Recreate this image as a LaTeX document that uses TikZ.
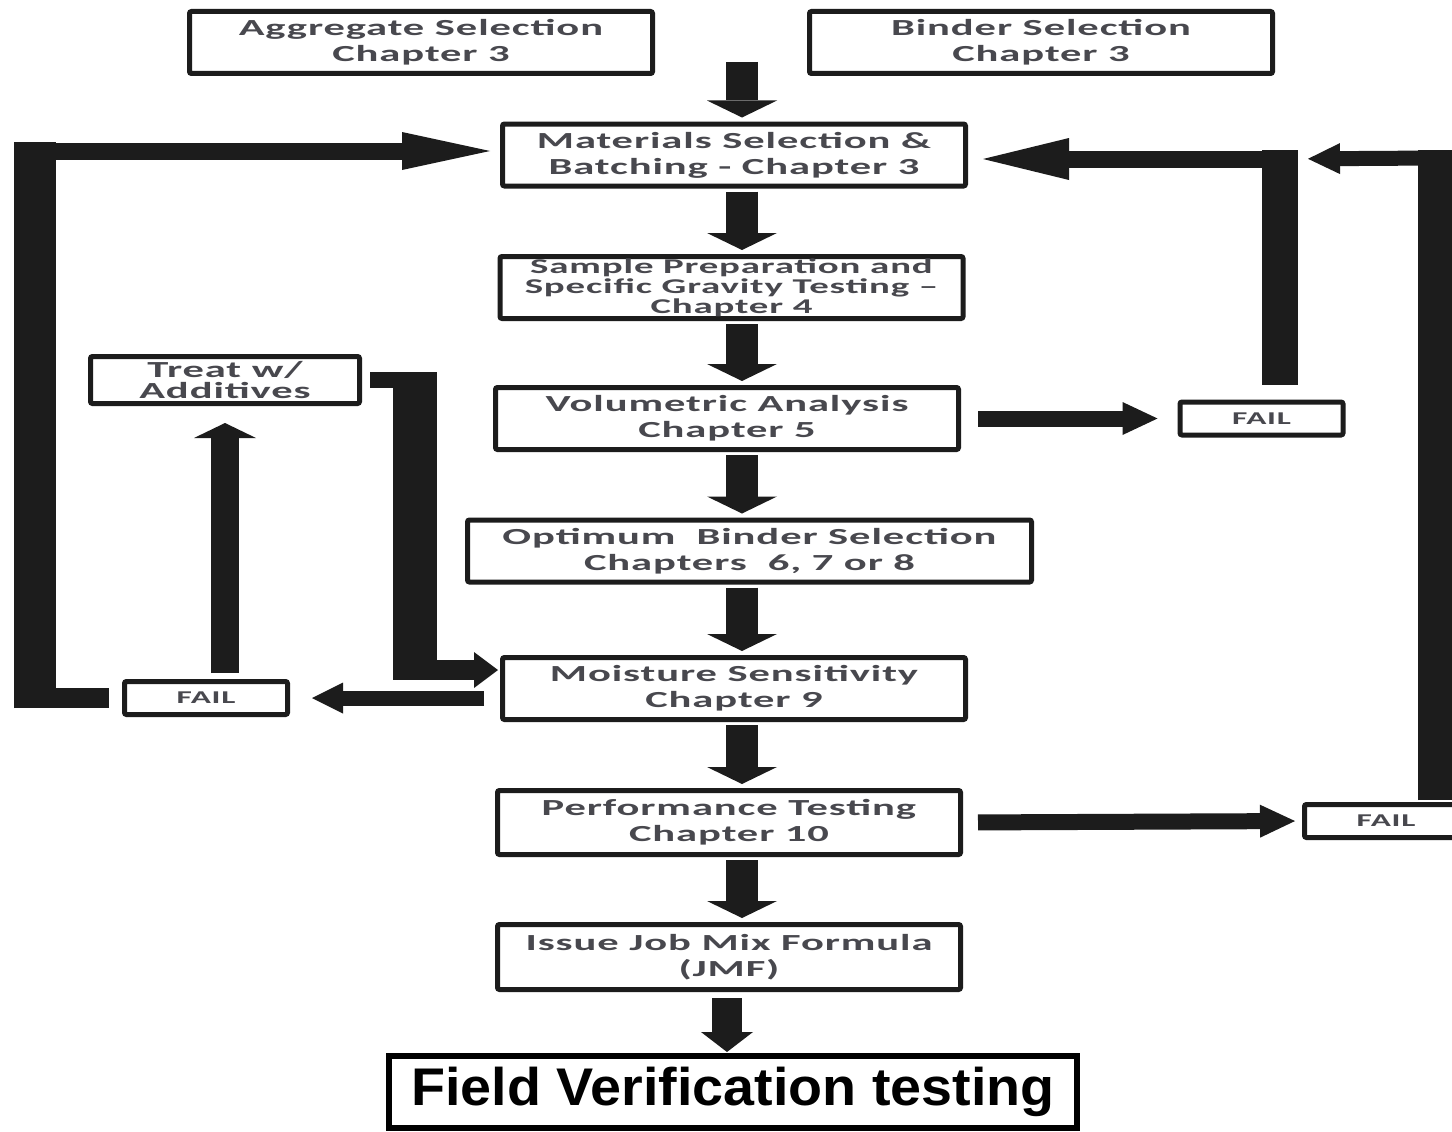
\documentclass[tikz,border=0pt]{standalone}
\usepackage{fontspec}
\usepackage{tikz}
\usetikzlibrary{arrows.meta,positioning,calc}
\newfontfamily\boxfont[FakeStretch=1.85,LetterSpace=4,Ligatures=TeX]{Carlito}
\newfontfamily\fieldfont[FakeStretch=1.05]{Liberation Sans}
\definecolor{inkgray}{RGB}{72,72,78}
\definecolor{arrowblack}{RGB}{28,28,28}

\begin{document}
\begin{tikzpicture}[x=1pt,y=-1pt,
 stage/.style={rectangle,draw=arrowblack,line width=5pt,rounded corners=2pt,fill=white,text=inkgray,align=center,inner sep=0pt,minimum width=463pt,minimum height=62pt,font=\boxfont\bfseries\fontsize{23}{26}\selectfont},
 failbox/.style={stage,minimum width=163pt,minimum height=33pt,font=\boxfont\bfseries\fontsize{18}{18}\selectfont},
 vflow/.style={draw=arrowblack,line width=32pt,-{Triangle[width=70pt,length=17pt,line width=0pt]},shorten <=3pt,shorten >=4pt},
 hflow/.style={draw=arrowblack,line width=16pt,-{Triangle[width=33pt,length=35pt,line width=0pt]}},
 vbar/.style={draw=arrowblack,line width=38pt},
 hbar/.style={draw=arrowblack,line width=17pt}
]
\clip (0,0) rectangle (1452,1132);
\fill[white] (0,0) rectangle (1452,1132);

% stages
\node[stage] (agg) at (421,42.5) {Aggregate Selection\\Chapter 3};
\node[stage] (binder) at (1041,42.5) {Binder Selection\\Chapter 3};
\node[stage] (mat) at (734,155) {Materials Selection \&\\Batching - Chapter 3};
\node[stage,font=\boxfont\bfseries\fontsize{21}{20}\selectfont] (sample) at (731.5,287.5) {Sample Preparation and\\Specific Gravity Testing –\\Chapter 4};
\node[stage] (vol) at (727,418.5) {Volumetric Analysis\\Chapter 5};
\node[stage,minimum width=564pt] (opt) at (749.5,551) {Optimum\ \ Binder Selection\\Chapters\ \ 6, 7 or 8};
\node[stage] (moist) at (734,688.5) {Moisture Sensitivity\\Chapter 9};
\node[stage,minimum height=64pt] (perf) at (729,822.5) {Performance Testing\\Chapter 10};
\node[stage,minimum height=65pt] (jmf) at (729,957) {Issue Job Mix Formula\\(JMF)};
\node[stage,minimum width=269pt,minimum height=47pt,font=\boxfont\bfseries\fontsize{23}{21}\selectfont] (treat) at (225,380) {Treat w/\\Additives};
\node[failbox] (fail1) at (1261.5,418.5) {FAIL};
\node[failbox] (fail2) at (206,698) {FAIL};
\node[failbox] (fail3) at (1386,821) {FAIL};
\node[rectangle,draw=black,line width=6pt,fill=white,inner sep=0pt,minimum width=688pt,minimum height=72pt,font=\fieldfont\bfseries\fontsize{53}{60}\selectfont] (field) at (733,1092) {Field Verification testing};

% main chain
\coordinate (spine) at (742,0);
\coordinate (start) at (742,62);
\draw[vflow,shorten <=0pt] (start) -- (mat.north -| spine);
\foreach \a/\b in {mat/sample,sample/vol,vol/opt,opt/moist,moist/perf,perf/jmf}
  \draw[vflow] (\a.south -| spine) -- (\b.north -| spine);
\coordinate (spinelow) at (727,0);
\draw[vflow,line width=30pt,-{Triangle[width=52pt,length=20pt,line width=0pt]},shorten <=6pt,shorten >=1pt] (jmf.south -| spinelow) -- (field.north -| spinelow);

% volumetric fail loop
\draw[hflow,shorten <=17pt,shorten >=20pt] (vol.east) -- (fail1.west);
\coordinate (f1bend) at (1280,159);
\draw[vbar,line width=36pt,shorten <=15pt,shorten >=-9pt] (fail1.north -| f1bend) -- (f1bend);
\draw[hbar,-{Triangle[width=42pt,length=86pt,line width=0pt]},shorten >=15pt] (f1bend) -- (mat.east |- f1bend);

% performance fail loop
\draw[hflow,shorten <=15pt,shorten >=7pt] (perf.east) -- (fail3.west);
\coordinate (f3bend) at (1437,158);
\draw[vbar,shorten <=2pt,shorten >=-8pt] (fail3.north -| f3bend) -- (f3bend);
\draw[hbar,line width=15pt,-{Triangle[width=31pt,length=32pt,line width=0pt]},shorten >=28pt] (f3bend) -- (f1bend);

% moisture fail loop
\draw[hflow,line width=15pt,-{Triangle[width=31pt,length=31pt,line width=0pt]},shorten <=16pt,shorten >=22pt] (moist.west |- fail2.east) -- (fail2.east);
\coordinate (lbot) at (35,698);
\coordinate (ltop) at (35,151);
\draw[hbar,line width=20pt,shorten <=13pt] (fail2.west) -- (lbot);
\draw[vbar,line width=42pt,shorten <=-10pt,shorten >=-9pt] (lbot) -- (ltop);
\draw[hbar,-{Triangle[width=38pt,length=88pt,line width=0pt]},shorten >=10pt] (ltop) -- (mat.west |- ltop);
\draw[vflow,line width=28pt,-{Triangle[width=62pt,length=15pt,line width=0pt]},shorten <=6pt,shorten >=17pt] (fail2.north -| treat.south) -- (treat.south);

% additives back to moisture
\coordinate (tbend) at (415,380);
\coordinate (tlow) at (415,670);
\draw[hbar,line width=16pt,shorten <=8pt] (treat.east) -- (tbend);
\draw[vbar,line width=44pt,shorten <=-8pt,shorten >=-10pt] (tbend) -- (tlow);
\draw[hbar,line width=20pt,-{Triangle[width=36pt,length=24pt,line width=0pt]},shorten >=2pt] (tlow) -- (moist.west |- tlow);
\end{tikzpicture}
\end{document}
